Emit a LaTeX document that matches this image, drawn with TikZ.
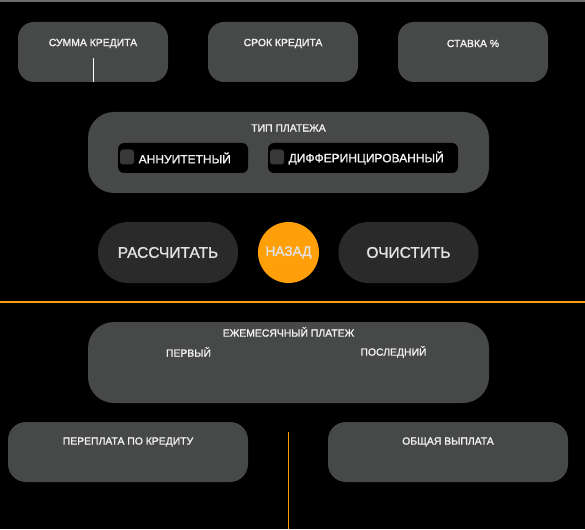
\documentclass[tikz,border=0pt]{standalone}
\usepackage{fontspec}
\setmainfont{Liberation Sans}
\newfontfamily\medfont[FakeBold=1.3]{Liberation Sans}
\definecolor{bg}{HTML}{000000}
\definecolor{panelc}{HTML}{474848}
\definecolor{btnc}{HTML}{2A2A2A}
\definecolor{orng}{HTML}{FF9F0A}
\definecolor{topbar}{HTML}{6E6E6E}
\definecolor{chkc}{HTML}{383838}
\definecolor{txtc}{HTML}{F2F2F2}
\definecolor{btntxt}{HTML}{E2E2E2}
\begin{document}
\begin{tikzpicture}[x=1pt,y=-1pt,
  panel/.style={fill=panelc, draw=none, inner sep=0pt, rounded corners=16pt, minimum width=150pt, minimum height=60pt},
  bigpanel/.style={fill=panelc, draw=none, inner sep=0pt, rounded corners=26pt, minimum width=401pt, minimum height=81pt},
  lowpanel/.style={fill=panelc, draw=none, inner sep=0pt, rounded corners=18pt, minimum width=240pt, minimum height=60pt},
  chkbox/.style={fill=black, draw=none, inner sep=0pt, rounded corners=6pt, minimum height=30pt},
  tick/.style={fill=chkc, draw=none, inner sep=0pt, rounded corners=3pt, minimum width=14pt, minimum height=15pt},
  pill/.style={fill=btnc, draw=none, inner sep=0pt, rounded corners=30pt, minimum width=140pt, minimum height=61pt, text=btntxt, font=\medfont\fontsize{15.5}{18}\selectfont},
  roundbtn/.style={circle, fill=orng, draw=none, inner sep=0pt, minimum size=61pt, text=btntxt, font=\medfont\fontsize{13.7}{16}\selectfont},
  lbl/.style={text=txtc, inner sep=0pt, font=\medfont\fontsize{10.4}{12}\selectfont},
  chklbl/.style={text=txtc, inner sep=0pt, anchor=west, font=\medfont\fontsize{12}{14}\selectfont},
  sep/.style={draw=orng, line width=1.2pt}
]
\fill[bg] (0,0) rectangle (585,529);
\useasboundingbox (0,0) rectangle (585,529);
\fill[topbar] (0,0) rectangle (585,2);

% input fields
\node[panel] (sum) at (93,52) {};
\node[panel] (term) at (283,52) {};
\node[panel] (rate) at (473,52) {};
\node[lbl] (sumlbl) at (93,43.5) {СУММА КРЕДИТА};
\node[lbl] (termlbl) at (283,43.5) {СРОК КРЕДИТА};
\node[lbl] (ratelbl) at (473,43.5) {СТАВКА \%};
\draw[white, line width=0.7pt] (93,58) -- (93,82);

% payment type
\node[bigpanel] (type) at (288.5,152.5) {};
\node[lbl] (typelbl) at (288.5,128) {ТИП ПЛАТЕЖА};
\node[chkbox, minimum width=130pt] (ann) at (183,158) {};
\node[tick] (anntick) at (127,157) {};
\node[chklbl] (annlbl) at (138.5,158) {АННУИТЕТНЫЙ};
\node[chkbox, minimum width=190pt] (diff) at (363,158) {};
\node[tick] (difftick) at (277,157) {};
\node[chklbl] (difflbl) at (288.5,158) {ДИФФЕРИНЦИРОВАННЫЙ};

% buttons
\node[pill] (calc) at (168,252.5) {РАССЧИТАТЬ};
\node[roundbtn] (back) at (288.5,252.5) {НАЗАД};
\node[pill] (clear) at (408.5,252.5) {ОЧИСТИТЬ};

% separator
\coordinate (sepL) at (0,302);
\coordinate (sepR) at (585,302);
\draw[sep] (sepL) -- (sepR);

% monthly payment
\node[bigpanel] (month) at (288.5,362.5) {};
\node[lbl] (monthlbl) at (288.5,332) {ЕЖЕМЕСЯЧНЫЙ ПЛАТЕЖ};
\node[lbl] (firstlbl) at (188.5,352) {ПЕРВЫЙ};
\node[lbl] (lastlbl) at (393.5,352) {ПОСЛЕДНИЙ};

% totals
\node[lowpanel] (over) at (128,452) {};
\node[lowpanel] (total) at (448,452) {};
\node[lbl] (overlbl) at (128,442) {ПЕРЕПЛАТА ПО КРЕДИТУ};
\node[lbl] (totallbl) at (448,442) {ОБЩАЯ ВЫПЛАТА};
\coordinate (vsepT) at (288,432);
\coordinate (vsepB) at (288,529);
\draw[sep, line width=1pt] (vsepT) -- (vsepB);
\end{tikzpicture}
\end{document}
